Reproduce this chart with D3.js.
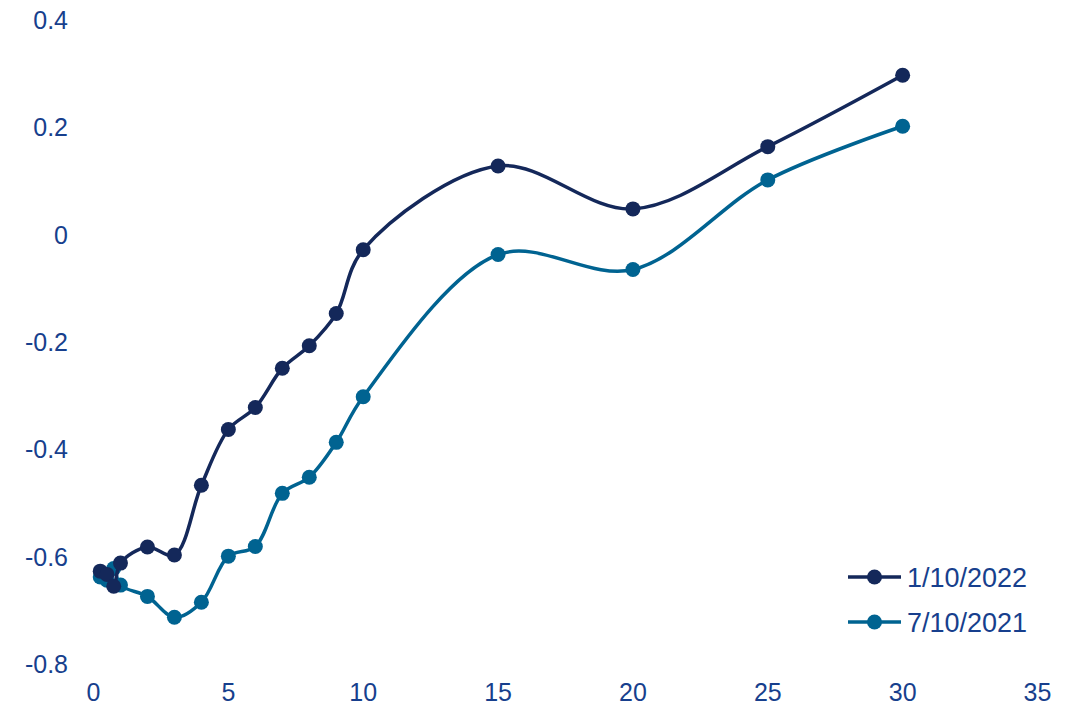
<!DOCTYPE html>
<html><head><meta charset="utf-8">
<script src="https://cdn.jsdelivr.net/npm/d3@7"></script>
<style>body{margin:0;background:#fff}svg{display:block}</style>
</head><body>
<svg id="c" width="1073" height="709"></svg>
<script>
const maturities = [0.25, 0.5, 0.75, 1, 2, 3, 4, 5, 6, 7, 8, 9, 10, 15, 20, 25, 30];
const series2022 = [-0.627, -0.633, -0.655, -0.612, -0.582, -0.597, -0.467, -0.363, -0.322, -0.249, -0.207, -0.147, -0.028, 0.128, 0.048, 0.164, 0.297];
const series2021 = [-0.638, -0.644, -0.622, -0.653, -0.674, -0.713, -0.685, -0.599, -0.581, -0.482, -0.452, -0.387, -0.302, -0.037, -0.065, 0.102, 0.202];
const seriesNames = ["1/10/2022", "7/10/2021"];
const seriesColors = ["#14285a", "#006391"];
const xTicks = [0, 5, 10, 15, 20, 25, 30, 35];
const yTicks = [0.4, 0.2, 0, -0.2, -0.4, -0.6, -0.8];

const svg = d3.select("#c");
const textColor = "#173f8d";
const font = "'Liberation Sans', Arial, sans-serif";
const x = d3.scaleLinear().domain([0, 35]).range([93.5, 1037.5]);
const y = d3.scaleLinear().domain([-0.8, 0.4]).range([664, 20]);

svg.append("g").selectAll("text").data(yTicks).join("text")
  .attr("x", 68).attr("y", d => y(d)).attr("dy", "0.36em")
  .attr("text-anchor", "end").attr("fill", textColor)
  .style("font-family", font).style("font-size", "25px")
  .text(d => d === 0 ? "0" : d.toFixed(1));
svg.append("g").selectAll("text").data(xTicks).join("text")
  .attr("x", d => x(d)).attr("y", 692).attr("dy", "0.36em")
  .attr("text-anchor", "middle").attr("fill", textColor)
  .style("font-family", font).style("font-size", "25px")
  .text(d => d);

const all = [series2022, series2021];
const line = d3.line().x(d => x(d[0])).y(d => y(d[1])).curve(d3.curveCatmullRom.alpha(0.5));
[1, 0].forEach(i => {
  const pts = maturities.map((m, j) => [m, all[i][j]]);
  svg.append("path").attr("d", line(pts)).attr("fill", "none")
    .attr("stroke", seriesColors[i]).attr("stroke-width", 3.5);
  svg.append("g").selectAll("circle").data(pts).join("circle")
    .attr("cx", d => x(d[0])).attr("cy", d => y(d[1])).attr("r", 7.5)
    .attr("fill", seriesColors[i]);
});

seriesNames.forEach((n, i) => {
  const ly = 577 + i * 45;
  const g = svg.append("g");
  g.append("line").attr("x1", 848).attr("x2", 901).attr("y1", ly).attr("y2", ly)
    .attr("stroke", seriesColors[i]).attr("stroke-width", 3.5);
  g.append("circle").attr("cx", 874.5).attr("cy", ly).attr("r", 7.5).attr("fill", seriesColors[i]);
  g.append("text").attr("x", 907).attr("y", ly).attr("dy", "0.36em")
    .attr("fill", textColor).style("font-family", font).style("font-size", "27px").text(n);
});
</script>
</body></html>
